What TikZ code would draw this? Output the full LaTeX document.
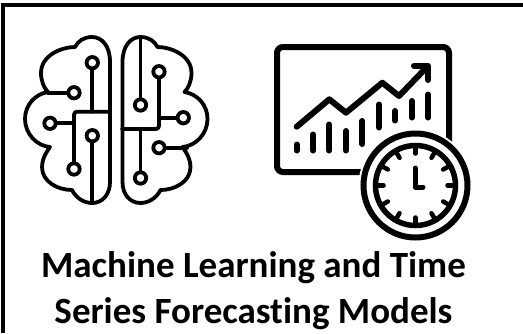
\documentclass[tikz,border=0pt]{standalone}
\usepackage{fontspec}
\setmainfont[Ligatures=CommonOff]{Carlito}
\tikzset{
  icon/.style={line width=3.8pt,line join=round,line cap=round},
  title/.style={font=\fontsize{37pt}{44.5pt}\selectfont\bfseries,align=center,inner sep=0pt,anchor=base},
  tick/.style={line width=4.5pt,line cap=round},
  thick bar/.style={line width=6pt,line cap=round}
}
\newcommand{\pad}[2]{\draw[icon,fill=white] (#1,#2) circle (5.7);}
\newcommand{\hemi}{%
 (110,62) .. controls (110,46) and (102,37) .. (92,37) .. controls (84,37) and (78,41) .. (75,47)
 .. controls (62,47) and (41,55) .. (41,73) .. controls (41,81) and (44,88) .. (48,92)
 .. controls (35,94) and (25,105) .. (25,119) .. controls (25,134) and (37,146) .. (50,147)
 .. controls (45,154) and (42,160) .. (42,167) .. controls (42,182) and (58,190) .. (72,190)
 .. controls (76,198) and (84,203) .. (92,203) .. controls (102,203) and (110,195) .. (110,182) -- cycle}
\begin{document}
\begin{tikzpicture}[x=1pt,y=-1pt]
\useasboundingbox (0,0) rectangle (523,333);
\draw[line width=4pt] (3,333) -- (3,5) -- (523,5);
% left hemisphere
\draw[icon] \hemi;
\draw[icon] (92.3,62.7) -- (92.3,111.7);
\draw[icon] (48,92.7) -- (74,92.7);
\draw[icon,rounded corners=3pt] (110,111.7) -- (74,111.7) -- (74,169);
\draw[icon] (50,123.3) -- (74,123.3);
\draw[icon] (92.3,135.7) -- (92.3,203);
\pad{92.3}{62.7}\pad{74}{92.7}\pad{50}{123.3}\pad{74}{169}\pad{92.3}{135.7}
% right hemisphere
\begin{scope}[xshift=232.5pt,xscale=-1]
\draw[icon] \hemi;
\end{scope}
\draw[icon] (140.5,37) -- (140.5,105);
\draw[icon,rounded corners=3pt] (122,129) -- (159,129) -- (159,71.7);
\draw[icon] (159,117.7) -- (183.3,117.7);
\draw[icon] (159,147.7) -- (187,147.7);
\draw[icon] (140.5,129) -- (140.5,178);
\pad{140.5}{105}\pad{159}{71.7}\pad{183.3}{117.7}\pad{159}{147.7}\pad{140.5}{178}
% chart
\draw[line width=6pt,rounded corners=6pt] (277,47) rectangle (449,172);
\draw[thick bar,line join=round] (296.7,126.7) -- (329.3,99.3) -- (346,112.7) -- (382.3,82.7) -- (399,96) -- (426.7,67.3);
\draw[thick bar,line join=round] (414,65.7) -- (428.3,65.7) -- (428.3,80);
\foreach \x/\a/\b in {296.7/144.5/150.5,313.3/134.5/150.5,329.3/124.5/150.5,346/131/150.5,362.3/121/144,379/104.5/127.5,395/111/120.5,411.7/101/117.5,428.3/94.5/117.5}
  \draw[thick bar] (\x,\a) -- (\x,\b);
% clock
\fill[white] (415.5,185.5) circle (57);
\draw[line width=6pt] (415.5,185.5) circle (52);
\draw[line width=5.5pt] (415.5,185.5) circle (40);
\foreach \t in {0,30,...,330}
  \draw[tick] (415.5,185.5) ++(\t:38) -- ++(\t:-6);
\draw[line width=5pt,line cap=round,line join=round] (415,168) -- (415,187) -- (423,187);
% title
\node[title] (t1) at (253.5,277) {Machine Learning and Time};
\node[title] (t2) at (253.5,323) {Series Forecasting Models};
\end{tikzpicture}
\end{document}
